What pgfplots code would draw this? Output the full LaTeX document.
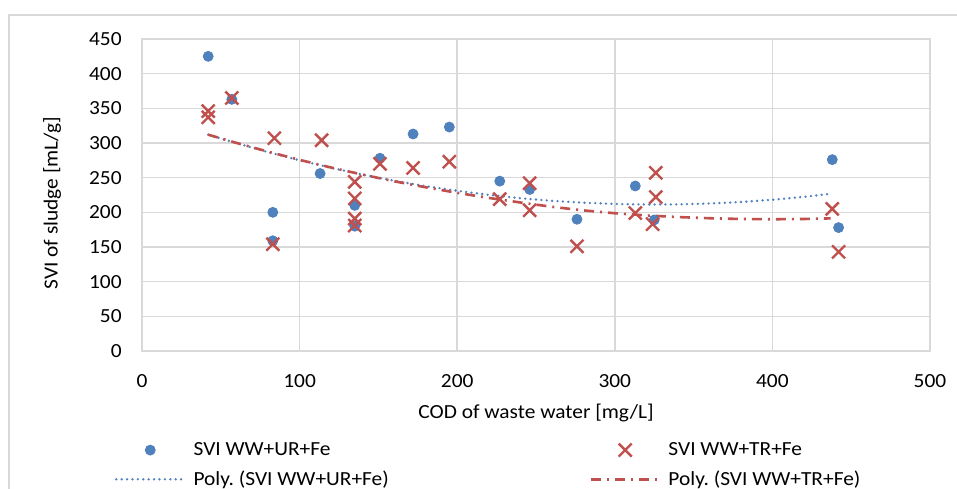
\documentclass[border=0pt]{standalone}
\usepackage{fontspec}
\setmainfont{Carlito}[FakeStretch=1.07]
\usepackage{pgfplots}
\usepackage{pgfplotstable}
\pgfplotsset{compat=1.18}
\definecolor{ublue}{HTML}{4F81BD}
\definecolor{tred}{HTML}{C0504D}
\definecolor{gridgray}{HTML}{D9D9D9}
\newcommand{\chartfont}{\fontsize{10}{12}\selectfont}
\frenchspacing
\pgfplotsset{
  markleg/.style={legend image code/.code={\path[draw=none,fill=none] (0pt,-3pt) rectangle (34pt,3pt);\draw[##1] plot coordinates {(17pt,0pt)};}},
  lineleg/.style={legend image code/.code={\path[draw=none,fill=none] (0pt,-3pt) rectangle (34pt,3pt);\draw[##1] (0pt,0pt) -- (34pt,0pt);}},
}

\pgfplotstableread{
x y
42 425
57 363
83 200
83 159
113 256
135 210
135 180
151 278
172 313
195 323
227 245
246 233
276 190
313 238
325 189
438 276
442 178
}\urdata

\pgfplotstableread{
x y
42 346
42 337
57 365
83 154
84 307
114 304
135 244
135 220
135 191
135 181
151 270
172 264
195 273
227 219
246 242
246 203
276 151
313 199
324 183
326 257
326 222
438 205
442 143
}\trdata

\pgfplotstableread{
x y
42 312.0
60 299.7
80 286.9
100 275.0
120 264.2
140 254.4
160 245.6
180 237.8
200 231.1
220 225.2
240 220.4
260 216.6
280 213.9
300 212.1
320 211.3
340 211.5
360 212.7
380 214.9
400 218.1
420 222.3
438 227.0
}\urpoly

\pgfplotstableread{
x y
42 312.0
60 300.1
80 287.5
100 275.7
120 264.6
140 254.4
160 244.8
180 236.1
200 228.1
220 220.8
240 214.2
260 208.0
280 202.8
300 198.7
320 195.5
340 193.2
360 191.5
380 190.4
400 190.0
420 190.4
437 191.3
}\trpoly

\begin{document}
\begin{tikzpicture}
\useasboundingbox (0,0) rectangle (478.5pt,244pt);
\fill[white] (0,0) rectangle (478.5pt,244pt);
\draw[gridgray, line width=0.8pt] (4.5pt,-1pt) -- (4.5pt,236.5pt) -- (480pt,236.5pt);
\begin{axis}[
  at={(71pt,68.5pt)}, anchor=south west,
  scale only axis, width=394pt, height=156pt,
  xmin=0, xmax=500, ymin=0, ymax=450,
  xtick={0,100,...,500}, ytick={0,50,...,450},
  grid=major, major grid style={gridgray, line width=0.8pt},
  axis line style={gridgray, line width=0.8pt},
  major tick length=0pt,
  tick label style={font=\chartfont},
  /pgf/number format/assume math mode=true,
  xticklabel style={anchor=center, yshift=-15pt},
  yticklabel style={anchor=east, inner sep=0pt, xshift=-10pt},
  xlabel={COD of waste water [mg/L]},
  ylabel={SVI of sludge [mL/g]},
  label style={font=\chartfont},
  xlabel style={at={(axis description cs:0.5,-0.199)}, anchor=center},
  ylabel style={at={(axis description cs:-0.114,0.474)}, anchor=center},
  legend columns=2,
  legend cell align=left,
  legend style={draw=none, fill=none, at={(axis description cs:-0.0343,-0.292)}, anchor=north west,
    inner sep=0pt, outer sep=0pt, font=\chartfont, nodes={inner sep=0pt},
    row sep=6.2pt,
    /tikz/every odd column/.append style={column sep=4pt},
    /tikz/every even column/.append style={column sep=100.5pt}},
]
\addplot[only marks, mark=*, mark size=2.5pt, color=ublue, mark options={draw=ublue, fill=ublue}, markleg] table[x=x,y=y] {\urdata};
\addlegendentry{SVI WW+UR+Fe}
\addplot[only marks, mark=x, mark size=4.6pt, color=tred, mark options={line width=1.2pt}, markleg] table[x=x,y=y] {\trdata};
\addlegendentry{SVI WW+TR+Fe}
\addplot[color=ublue, line width=1.3pt, line cap=round, dash pattern=on 0pt off 2.7pt, lineleg] table[x=x,y=y] {\urpoly};
\addlegendentry{Poly. (SVI WW+UR+Fe)}
\addplot[color=tred, line width=1.3pt, dash pattern=on 5pt off 3pt on 1pt off 3pt, lineleg] table[x=x,y=y] {\trpoly};
\addlegendentry{Poly. (SVI WW+TR+Fe)}
\end{axis}
\end{tikzpicture}
\end{document}
